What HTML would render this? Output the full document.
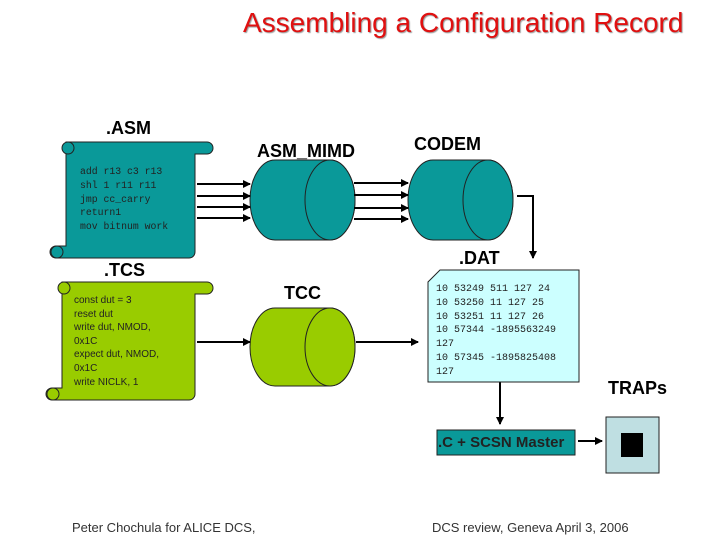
<!DOCTYPE html>
<html><head><style>
body{margin:0;width:720px;height:540px;background:#fff;overflow:hidden;position:relative;font-family:"Liberation Sans",sans-serif}
.a{position:absolute;white-space:nowrap}
.b{font-weight:bold;font-size:18px}
.mono{font-family:"Liberation Mono",monospace;font-size:10px;line-height:13.8px}
</style></head><body>
<div class="a" style="left:243px;top:7px;font-size:28px;color:#e01010;text-shadow:1px 1px 1px #999">Assembling a Configuration Record</div>
<svg class="a" style="left:0;top:0" width="720" height="540">
<defs><marker id="ar" markerWidth="8" markerHeight="8" refX="7" refY="4" orient="auto" markerUnits="userSpaceOnUse"><path d="M0,0L8,4L0,8z" fill="#000"/></marker></defs>
<path d="M66,142 H207 a6,6 0 0 1 0,12 H195 V252 a6,6 0 0 1 -6,6 H56 a6,6 0 0 1 0,-12 H66 Z" fill="#0a9999" stroke="#222" stroke-width="1"/>
<circle cx="68" cy="148" r="6" fill="#0a9999" stroke="#222"/>
<circle cx="57" cy="252" r="6" fill="#0a9999" stroke="#222"/>
<path d="M62,282 H207 a6,6 0 0 1 0,12 H195 V394 a6,6 0 0 1 -6,6 H52 a6,6 0 0 1 0,-12 H62 Z" fill="#99cc00" stroke="#222" stroke-width="1"/>
<circle cx="64" cy="288" r="6" fill="#99cc00" stroke="#222"/>
<circle cx="53" cy="394" r="6" fill="#99cc00" stroke="#222"/>
<g stroke="#222" stroke-width="1">
<path d="M275,160 H330 A25,40 0 0 1 330,240 H275 A25,40 0 0 1 275,160Z" fill="#0a9999"/>
<ellipse cx="330" cy="200" rx="25" ry="40" fill="#0a9999"/>
<path d="M433,160 H488 A25,40 0 0 1 488,240 H433 A25,40 0 0 1 433,160Z" fill="#0a9999"/>
<ellipse cx="488" cy="200" rx="25" ry="40" fill="#0a9999"/>
<path d="M275,308 H330 A25,39 0 0 1 330,386 H275 A25,39 0 0 1 275,308Z" fill="#99cc00"/>
<ellipse cx="330" cy="347" rx="25" ry="39" fill="#99cc00"/>
</g>
<g stroke="#000" stroke-width="2" marker-end="url(#ar)">
<line x1="197" y1="184" x2="250" y2="184"/><line x1="197" y1="196" x2="250" y2="196"/>
<line x1="197" y1="207" x2="250" y2="207"/><line x1="197" y1="218" x2="250" y2="218"/>
<line x1="354" y1="183" x2="408" y2="183"/><line x1="354" y1="195" x2="408" y2="195"/>
<line x1="354" y1="208" x2="408" y2="208"/><line x1="354" y1="219" x2="408" y2="219"/>
<line x1="197" y1="342" x2="250" y2="342"/>
<line x1="356" y1="342" x2="418" y2="342"/>
<polyline points="517,196 533,196 533,258" fill="none"/>
<line x1="500" y1="382" x2="500" y2="424"/>
<line x1="578" y1="441" x2="602" y2="441"/>
</g>
<path d="M440,270 H579 V382 H428 V282 Z" fill="#ccffff" stroke="#222"/>
<rect x="437" y="430" width="138" height="25" fill="#0a9999" stroke="#222"/>
<rect x="606" y="417" width="53" height="56" fill="#bfdfe2" stroke="#222"/>
<rect x="621" y="433" width="22" height="24" fill="#000"/>
</svg>
<div class="a b" style="left:106px;top:118px">.ASM</div>
<div class="a b" style="left:257px;top:141px">ASM_MIMD</div>
<div class="a b" style="left:414px;top:134px">CODEM</div>
<div class="a b" style="left:104px;top:260px">.TCS</div>
<div class="a b" style="left:284px;top:283px">TCC</div>
<div class="a b" style="left:459px;top:248px">.DAT</div>
<div class="a b" style="left:608px;top:378px">TRAPs</div>
<div class="a mono" style="left:80px;top:165px;font-size:9.8px;line-height:13.8px;color:#222">add r13 c3 r13<br>shl 1 r11 r11<br>jmp cc_carry<br>return1<br>mov bitnum work</div>
<div class="a" style="left:74px;top:294px;font-size:10px;line-height:13.6px;color:#222">const dut = 3<br>reset dut<br>write dut, NMOD,<br>0x1C<br>expect dut, NMOD,<br>0x1C<br>write NICLK, 1</div>
<div class="a mono" style="left:436px;top:283px;color:#222">10 53249 511 127 24<br>10 53250 11 127 25<br>10 53251 11 127 26<br>10 57344 -1895563249<br>127<br>10 57345 -1895825408<br>127</div>
<div class="a" style="left:438px;top:434px;font-size:15px;font-weight:bold;color:#222">.C + SCSN Master</div>
<div class="a" style="left:72px;top:520px;font-size:13px;color:#333">Peter Chochula for ALICE DCS,</div>
<div class="a" style="left:432px;top:520px;font-size:13px;color:#333">DCS review, Geneva April 3, 2006</div>
</body></html>
